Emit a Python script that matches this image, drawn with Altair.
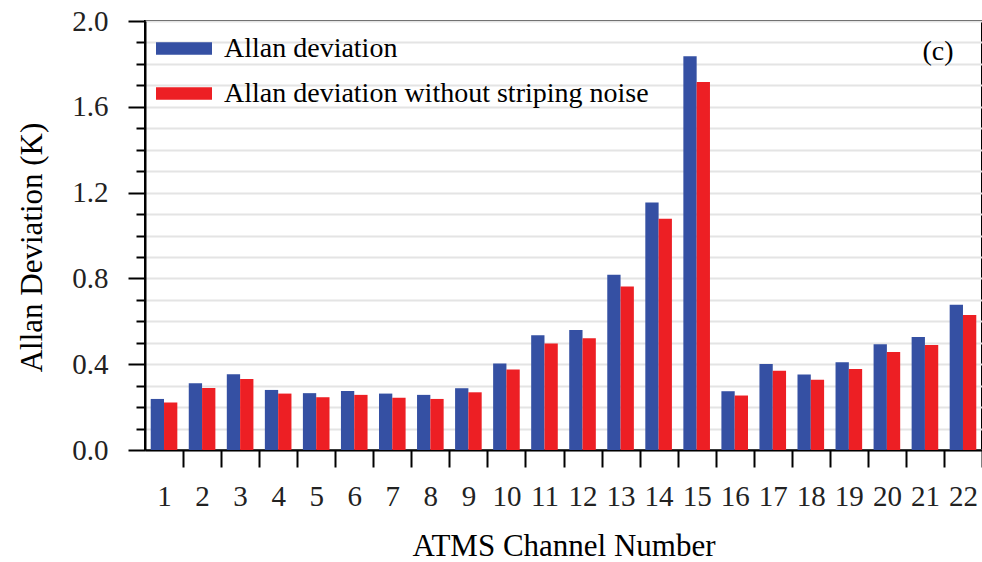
import altair as alt
import pandas as pd

channels = [str(i) for i in range(1, 23)]
allan_dev = [0.238, 0.311, 0.353, 0.280, 0.265, 0.275, 0.263, 0.257, 0.288, 0.403,
             0.535, 0.560, 0.817, 1.154, 1.836, 0.274, 0.401, 0.352, 0.409, 0.493,
             0.527, 0.677]
allan_dev_nostripe = [0.221, 0.289, 0.331, 0.263, 0.246, 0.257, 0.244, 0.238, 0.269, 0.375,
                      0.496, 0.521, 0.762, 1.078, 1.716, 0.254, 0.369, 0.327, 0.378, 0.457,
                      0.490, 0.629]
series_names = ["Allan deviation", "Allan deviation without striping noise"]
series_colors = ["#3550A3", "#ED1F24"]
y_ticks = [round(i * 0.1, 1) for i in range(21)]
panel_label = ["(c)"]

rows = []
for name, vals in zip(series_names, [allan_dev, allan_dev_nostripe]):
    for ch, v in zip(channels, vals):
        rows.append({"channel": ch, "series": name, "value": v})
df = pd.DataFrame(rows)

FONT = "Liberation Serif"
major = "round(datum.value*10) % 4 == 0"

bars = alt.Chart(df).mark_bar().encode(
    x=alt.X("channel:N", sort=channels,
            scale=alt.Scale(paddingInner=0, paddingOuter=0),
            axis=alt.Axis(labelAngle=0, tickBand="extent", tickSize=17, tickColor="black",
                          tickOpacity={"condition": {"test": "datum.extra", "value": 0}, "value": 1},
                          tickWidth=2, domainColor="black", domainWidth=2, grid=False,
                          labelFont=FONT, labelFontSize=29, labelColor="#222", labelPadding=15,
                          title="ATMS Channel Number", titleFont=FONT, titleFontSize=31,
                          titleFontWeight="normal", titleColor="black", titlePadding=20)),
    xOffset=alt.XOffset("series:N", sort=series_names,
                        scale=alt.Scale(paddingInner=0, paddingOuter=0.43)),
    y=alt.Y("value:Q", scale=alt.Scale(domain=[0, 2], nice=False, zero=True),
            axis=alt.Axis(values=y_ticks,
                          labelExpr=major + " ? format(datum.value, '.1f') : ''",
                          tickSize={"condition": {"test": major, "value": 17}, "value": 9},
                          tickColor="black", tickWidth=2, domainColor="black", domainWidth=2,
                          grid=True, gridColor="#e4e4e4", gridWidth=2,
                          labelFont=FONT, labelFontSize=29, labelColor="#222", labelPadding=20,
                          title="Allan Deviation (K)", titleFont=FONT, titleFontSize=31,
                          titleFontWeight="normal", titleColor="black",
                          titleX=-113, titleY=226, titleAngle=270, titleAlign="center",
                          titleBaseline="middle")),
    color=alt.Color("series:N", sort=series_names,
                    scale=alt.Scale(domain=series_names, range=series_colors),
                    legend=alt.Legend(title=None, orient="none", legendX=11, legendY=5,
                                      direction="vertical",
                                      symbolType="M-1,-0.22H1V0.22H-1Z", symbolSize=3136,
                                      symbolStrokeWidth=0, symbolOpacity=1,
                                      labelFont=FONT, labelFontSize=28, labelColor="black",
                                      labelOffset=12, rowPadding=0, clipHeight=45,
                                      padding=0, labelLimit=700)),
)

label = alt.Chart(pd.DataFrame({"t": panel_label})).mark_text(
    font=FONT, fontSize=28, color="black", align="center", baseline="middle"
).encode(text="t:N", x=alt.value(793), y=alt.value(31))

chart = alt.layer(bars, label).properties(
    width=837, height=429,
    padding={"left": 145, "top": 21, "right": 0, "bottom": 112},
    autosize=alt.AutoSizeParams(type="none"),
).configure_view(stroke="black", strokeWidth=2)

chart.save("out.html", embed_options={"renderer": "svg", "actions": False})
